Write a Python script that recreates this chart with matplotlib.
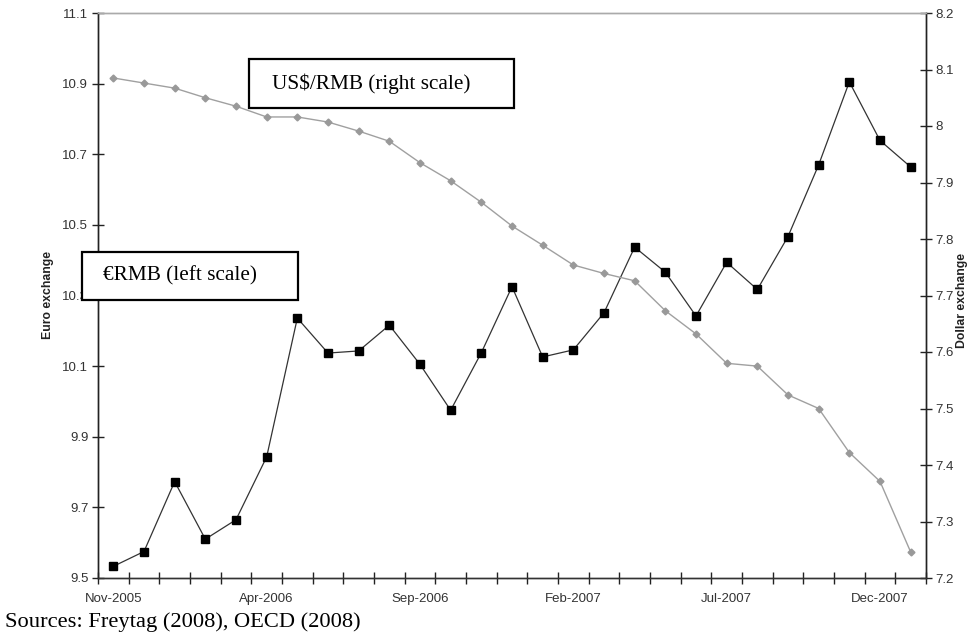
import numpy as np
import matplotlib
matplotlib.use('Agg')
import matplotlib.pyplot as plt
from matplotlib.patches import Rectangle

# ==============Chart data============
months = ['Nov-2005', 'Dec-2005', 'Jan-2006', 'Feb-2006', 'Mar-2006', 'Apr-2006', 'May-2006',
          'Jun-2006', 'Jul-2006', 'Aug-2006', 'Sep-2006', 'Oct-2006', 'Nov-2006', 'Dec-2006',
          'Jan-2007', 'Feb-2007', 'Mar-2007', 'Apr-2007', 'May-2007', 'Jun-2007', 'Jul-2007',
          'Aug-2007', 'Sep-2007', 'Oct-2007', 'Nov-2007', 'Dec-2007', 'Jan-2008']
euroRmb = [9.533, 9.575, 9.773, 9.610, 9.665, 9.843, 10.236, 10.137, 10.143, 10.216,
           10.105, 9.975, 10.138, 10.325, 10.126, 10.146, 10.251, 10.437, 10.366, 10.242,
           10.394, 10.317, 10.467, 10.670, 10.905, 10.739, 10.664]
dollarRmb = [8.085, 8.076, 8.067, 8.050, 8.035, 8.016, 8.016, 8.007, 7.991, 7.973,
             7.935, 7.903, 7.865, 7.823, 7.789, 7.754, 7.739, 7.726, 7.673, 7.632,
             7.580, 7.575, 7.524, 7.500, 7.422, 7.371, 7.246]
labelEvery = 5
leftTicks = [9.5, 9.7, 9.9, 10.1, 10.3, 10.5, 10.7, 10.9, 11.1]
rightTicks = [7.2, 7.3, 7.4, 7.5, 7.6, 7.7, 7.8, 7.9, 8.0, 8.1, 8.2]
#=====================================

plt.rcParams['font.family'] = ['Liberation Sans', 'DejaVu Sans']

x = np.arange(len(months))

fig = plt.figure(figsize=(9.77, 6.38), dpi=100)
ax = fig.add_axes([98/977, 1-578/638, (926-98)/977, (578-13)/638])
ax2 = ax.twinx()

ax.plot(x, euroRmb, color='#333333', lw=0.9, marker='s', ms=5.5,
        mfc='black', mec='black', zorder=3)
ax2.plot(x, dollarRmb, color='#a0a0a0', lw=1.0, marker='D', ms=3.5,
         mfc='#999999', mec='#999999', zorder=3)

ax.set_xlim(-0.5, len(months)-0.5)
ax.set_ylim(9.5, 11.1)
ax2.set_ylim(7.2, 8.2)

# category axis: tick marks on boundaries, labels every 5th month
ax.set_xticks(np.arange(-0.5, len(months), 1.0))
ax.set_xticklabels([])
ax.set_xticks(x[::labelEvery], minor=True)
ax.set_xticklabels([months[i] for i in x[::labelEvery]], minor=True)
ax.tick_params(axis='x', which='major', direction='inout', length=8, width=1, color='#222222')
ax.tick_params(axis='x', which='minor', length=0, pad=11, labelsize=9.5, labelcolor='#333333')

ax.set_yticks(leftTicks)
ax.set_yticklabels([f"{v:.1f}" for v in leftTicks])
ax.tick_params(axis='y', direction='inout', length=8, width=1, color='#222222',
               labelsize=9.5, labelcolor='#333333', pad=3)
ax2.set_yticks(rightTicks)
ax2.set_yticklabels([f"{v:g}" for v in rightTicks])
ax2.tick_params(axis='y', direction='inout', length=8, width=1, color='#222222',
                labelsize=9.5, labelcolor='#333333', pad=3)

for a in (ax, ax2):
    a.spines['top'].set_color('#aaaaaa')
    a.spines['left'].set_color('#222222')
    a.spines['right'].set_color('#222222')
    a.spines['bottom'].set_color('#333333')
    for s in a.spines.values():
        s.set_linewidth(1)

fig.text(48/977, 1-295/638, 'Euro exchange', rotation=90, ha='center', va='center',
         fontsize=8.8, fontweight='bold', color='#222222')
fig.text(962/977, 1-300/638, 'Dollar exchange', rotation=90, ha='center', va='center',
         fontsize=8.8, fontweight='bold', color='#222222')

# text boxes, drawn on the twin axes so they sit above the left tick labels
def textBox(x0, y0, x1, y1, txt, tx):
    r = Rectangle((x0/977, 1-y1/638), (x1-x0)/977, (y1-y0)/638, transform=fig.transFigure,
                  facecolor='white', edgecolor='black', lw=1.6, clip_on=False, zorder=5)
    ax2.add_patch(r)
    ax2.text(tx/977, 1-(y0+y1)/2/638, txt, transform=fig.transFigure, ha='left', va='center',
             family='Liberation Serif', fontsize=15.3, zorder=6, clip_on=False)

textBox(249, 59, 514, 108, 'US$/RMB (right scale)', 272)
textBox(82, 252, 298, 300, '€RMB (left scale)', 103)

fig.text(5/977, 1-622/638, 'Sources: Freytag (2008), OECD (2008)', ha='left', va='center',
         family='Liberation Serif', fontsize=16.2)

fig.savefig('out.png', dpi=100)
